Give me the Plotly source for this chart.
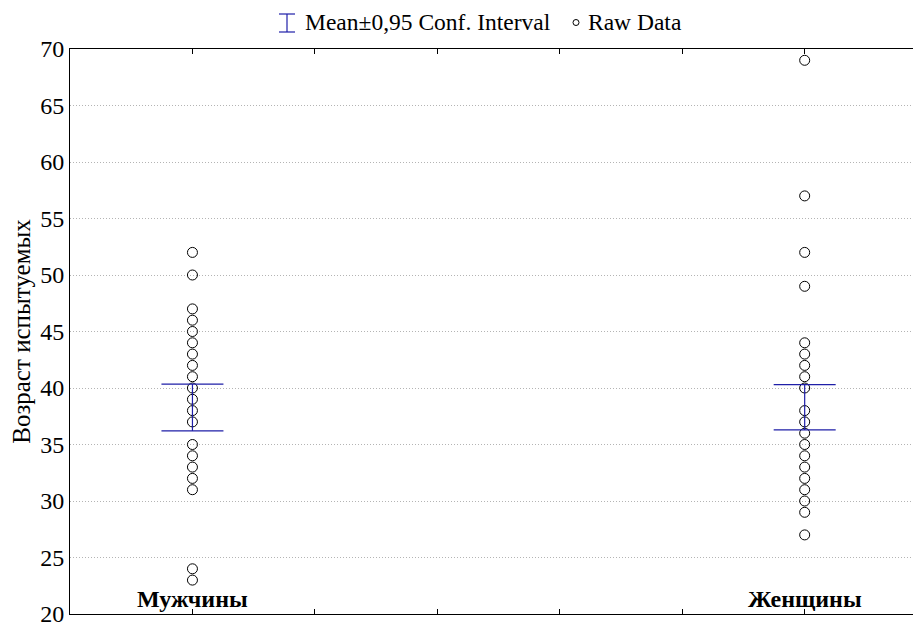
import plotly.graph_objects as go

categories = ["Мужчины", "Женщины"]
cat_pos = [1, 6]
men_ages = [52, 50, 47, 46, 45, 44, 43, 42, 41, 40, 39, 38, 37, 35, 34, 33, 32, 31, 24, 23]
women_ages = [69, 57, 52, 49, 44, 43, 42, 41, 40, 38, 37, 36, 35, 34, 33, 32, 31, 30, 29, 27]
ci_low = [36.2, 36.3]
ci_high = [40.35, 40.3]
y_ticks = [20, 25, 30, 35, 40, 45, 50, 55, 60, 65, 70]

FONT = "Liberation Serif"
BLUE = "#1f1fa8"

fig = go.Figure()

# raw data
for pos, ages in zip(cat_pos, [men_ages, women_ages]):
    fig.add_trace(go.Scatter(
        x=[pos] * len(ages), y=ages, mode="markers",
        marker=dict(symbol="circle-open", size=10, color="black", line=dict(width=1, color="black")),
        showlegend=False, hoverinfo="y",
    ))

# mean ± CI
mid = [(a + b) / 2 for a, b in zip(ci_low, ci_high)]
fig.add_trace(go.Scatter(
    x=cat_pos, y=mid, mode="markers",
    marker=dict(size=1, color="rgba(0,0,0,0)"),
    error_y=dict(type="data", symmetric=False,
                 array=[h - m for h, m in zip(ci_high, mid)],
                 arrayminus=[m - l for m, l in zip(mid, ci_low)],
                 width=31, thickness=1.2, color=BLUE),
    showlegend=False,
))

# category labels inside plot
for pos, name in zip(cat_pos, categories):
    fig.add_annotation(x=pos, y=20, xref="x", yref="y", text="<b>%s</b>" % name,
                       showarrow=False, yanchor="bottom", xanchor="center", yshift=0,
                       font=dict(family=FONT, size=24, color="black"))

# manual legend (window pixel -> paper coords; plot area spans 70..921 x 49..614)
def px_x(p):
    return (p - 70) / 851.0

def px_y(p):
    return (614 - p) / 565.0

for x0, y0, x1, y1 in [(287, 14, 287, 32), (279, 14, 295, 14), (279, 32, 295, 32)]:
    fig.add_shape(type="line", xref="paper", yref="paper",
                  x0=px_x(x0), y0=px_y(y0), x1=px_x(x1), y1=px_y(y1),
                  line=dict(color=BLUE, width=1.2))
fig.add_annotation(x=px_x(303), y=px_y(22), xref="paper", yref="paper",
                   text="Mean±0,95 Conf. Interval", showarrow=False,
                   xanchor="left", yanchor="middle",
                   font=dict(family=FONT, size=23.5, color="black"))
fig.add_shape(type="circle", xref="paper", yref="paper",
              x0=px_x(573), y0=px_y(19.5), x1=px_x(579), y1=px_y(25.5),
              line=dict(color="black", width=1))
fig.add_annotation(x=px_x(586), y=px_y(22), xref="paper", yref="paper",
                   text="Raw Data", showarrow=False,
                   xanchor="left", yanchor="middle",
                   font=dict(family=FONT, size=23.5, color="black"))

# page body has an 8px margin: figure is 913x615 placed at (8,8)
fig.update_layout(
    width=913, height=615,
    margin=dict(l=62, r=0, t=41, b=9, pad=0, autoexpand=False),
    paper_bgcolor="white", plot_bgcolor="white",
    font=dict(family=FONT, size=24, color="black"),
    xaxis=dict(range=[0, 6.95], tickvals=[1, 2, 3, 4, 5, 6], showticklabels=False,
               ticks="inside", ticklen=5, tickcolor="black", mirror="ticks", automargin=False,
               showline=True, linecolor="black", linewidth=1, showgrid=False, zeroline=False),
    yaxis=dict(range=[20, 70], tickvals=y_ticks, ticks="", showline=True, automargin=False,
               linecolor="black", linewidth=1, showgrid=True, gridcolor="#b4b4b4",
               griddash="1px,2px", gridwidth=1, zeroline=False,
               ticklabeloverflow="allow",
               tickfont=dict(family=FONT, size=24),
               title=dict(text="Возраст испытуемых", font=dict(family=FONT, size=25), standoff=14)),
    showlegend=False,
)

fig.write_html("out.html")
